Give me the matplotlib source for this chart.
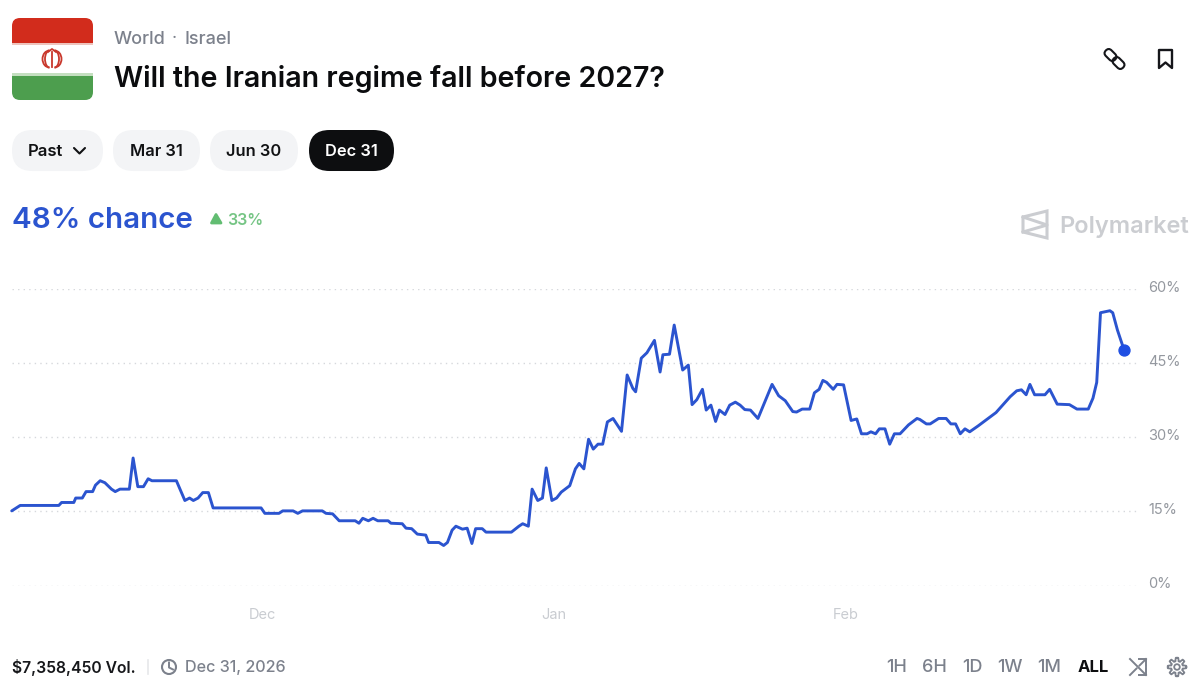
import numpy as np
import matplotlib
matplotlib.use('Agg')
import matplotlib.pyplot as plt
from matplotlib.patches import FancyBboxPatch, Circle, Rectangle, Polygon, Arc
from matplotlib.transforms import Affine2D, ScaledTranslation

plt.rcParams['font.family'] = ['Inter', 'DejaVu Sans']

# days counted from Dec 1
days = [-26.6, -25.7, -21.6, -21.3, -20.0, -19.8, -19.1, -18.7, -18.0, -17.7, -17.2, -16.7, -16.0, -15.6, -15.1,
        -14.1, -13.7, -13.2, -12.6, -12.1, -11.7, -9.1, -8.2, -7.7, -7.3, -6.8, -6.3, -5.7, -5.2, -0.1,
        0.3, 1.8, 2.2, 3.3, 3.8, 4.3, 6.4, 6.8, 7.5, 8.2, 9.9, 10.3, 10.7, 11.3, 11.8,
        12.3, 13.4, 13.7, 14.9, 15.3, 15.9, 16.5, 17.4, 17.7, 18.8, 19.3, 19.7, 20.2, 20.6, 21.3,
        21.8, 22.3, 22.7, 23.4, 23.8, 26.5, 27.3, 27.7, 28.3, 28.7, 29.3, 29.8, 30.2, 30.8, 31.3,
        31.8, 32.7, 33.3, 33.7, 34.2, 34.7, 35.2, 35.7, 36.2, 36.7, 37.3, 38.2, 38.8, 39.4, 39.7,
        40.3, 40.9, 41.7, 42.3, 42.6, 43.3, 43.8, 44.7, 45.3, 45.7, 46.2, 46.8, 47.2, 47.7, 48.2,
        48.6, 49.2, 49.7, 50.3, 50.8, 51.3, 51.9, 52.7, 54.2, 54.9, 55.6, 56.4, 56.8, 57.4, 58.2,
        58.7, 59.2, 59.6, 60.0, 60.7, 61.1, 61.8, 62.6, 63.2, 63.7, 64.3, 64.7, 65.2, 65.6, 66.2,
        66.7, 67.2, 67.8, 68.7, 69.6, 69.9, 70.6, 71.0, 71.9, 72.7, 73.2, 73.7, 74.2, 74.7, 75.2,
        76.1, 78.0, 79.5, 80.2, 80.7, 81.2, 81.6, 82.1, 83.2, 83.7, 84.5, 85.8, 86.6, 87.8, 88.3,
        88.7, 89.1, 90.1, 90.4, 90.9, 91.6]
chance = [15.1, 16.2, 16.2, 16.8, 16.8, 17.7, 17.7, 19.0, 19.0, 20.3, 21.2, 20.8, 19.5, 19.0, 19.5,
          19.5, 25.8, 20.0, 20.0, 21.6, 21.2, 21.2, 17.2, 17.7, 17.2, 17.7, 18.8, 18.8, 15.7, 15.7,
          14.6, 14.6, 15.1, 15.1, 14.6, 15.1, 15.1, 14.6, 14.5, 13.1, 13.1, 12.6, 13.6, 13.1, 13.6,
          13.1, 13.1, 12.6, 12.5, 11.6, 11.5, 10.4, 10.2, 8.7, 8.7, 8.1, 8.7, 11.2, 12.0, 11.4,
          11.6, 8.5, 11.5, 11.5, 10.8, 10.8, 12.0, 12.5, 12.0, 19.5, 17.2, 17.7, 23.8, 17.2, 17.7,
          18.9, 20.2, 23.6, 24.7, 23.6, 29.6, 27.6, 28.6, 28.6, 33.1, 33.8, 31.2, 42.6, 39.9, 39.2,
          46.0, 47.1, 49.6, 43.2, 46.7, 46.8, 52.7, 43.6, 44.6, 36.6, 37.6, 39.7, 35.5, 36.5, 33.2,
          35.5, 34.6, 36.5, 37.1, 36.5, 35.6, 35.5, 33.8, 40.7, 38.4, 37.4, 35.2, 35.1, 35.7, 35.7,
          39.0, 39.7, 41.5, 41.1, 39.7, 40.7, 40.6, 33.4, 33.7, 30.7, 30.7, 31.1, 30.7, 31.7, 31.7,
          28.6, 30.7, 30.7, 32.5, 33.8, 33.6, 32.7, 32.7, 33.8, 33.8, 32.7, 32.7, 30.7, 31.7, 31.1,
          32.3, 35.0, 38.2, 39.4, 39.6, 38.6, 40.7, 38.6, 38.6, 39.7, 36.7, 36.6, 35.7, 35.7, 37.9,
          41.1, 55.2, 55.6, 55.2, 51.7, 47.7]

y_ticks = [0, 15, 30, 45, 60]
y_labels = ['0%', '15%', '30%', '45%', '60%']
x_ticks = [0, 31, 62]
x_labels = ['Dec', 'Jan', 'Feb']
pills = [('Mar 31', 113, 200), ('Jun 30', 210, 298)]
ranges = [('1H', 897), ('6H', 934), ('1D', 972), ('1W', 1010), ('1M', 1049)]

BLUE = '#2b54cf'
GRAY = '#7c818c'

fig = plt.figure(figsize=(12, 6.96), dpi=100, facecolor='white')

# chart area
ax = fig.add_axes([12 / 1200, 1 - 585.5 / 696, 1125 / 1200, 296.5 / 696])
ax.set_xlim(-26.57, 92.98)
ax.set_ylim(0, 60)
ax.plot(days, chance, color=BLUE, lw=2.1, solid_joinstyle='round', solid_capstyle='round', clip_on=False, zorder=3)
ax.scatter([days[-1]], [chance[-1]], s=62, color='#1f4fe3', zorder=4, clip_on=False)
ax.yaxis.tick_right()
ax.set_yticks(y_ticks)
ax.set_yticklabels(y_labels, fontsize=10.5, color='#94989f')
ax.set_xticks(x_ticks)
ax.set_xticklabels(x_labels, fontsize=10.5, color='#c9ccd1')
ax.tick_params(axis='both', length=0)
ax.tick_params(axis='y', pad=8.2)
ax.tick_params(axis='x', pad=16)
ax.grid(axis='y', color='#d6d8dc', lw=1.0, linestyle=(0, (1, 3)))
for s in ax.spines.values():
    s.set_visible(False)
ax.patch.set_alpha(0)
# labels sit a little above their gridlines
for lab in ax.get_yticklabels():
    lab.set_transform(lab.get_transform() + ScaledTranslation(0, 2.5 / 100, fig.dpi_scale_trans))

# page furniture, in pixel coordinates
ui = fig.add_axes([0, 0, 1, 1], zorder=-1)
ui.set_xlim(0, 1200)
ui.set_ylim(696, 0)
ui.axis('off')


def pill(x0, x1, y0, y1, color):
    r = (y1 - y0) / 2
    ui.add_patch(FancyBboxPatch((x0 + r, y0 + r), x1 - x0 - 2 * r, 0.01,
                                boxstyle='round,pad=%f,rounding_size=%f' % (r, r),
                                fc=color, ec='none'))


# flag
clip = FancyBboxPatch((19, 25), 67, 68, boxstyle='round,pad=7,rounding_size=8', fc='white', ec='none')
ui.add_patch(clip)
for y, h, c in [(18, 25, '#d22c1c'), (43, 2.2, '#eec4bd'), (73, 2.6, '#c4dfc0'), (75.6, 24.4, '#4d9e4e')]:
    r = Rectangle((12, y), 81, h, fc=c, ec='none')
    ui.add_patch(r)
    r.set_clip_path(clip)
for cx, w in [(49.5, 14), (49.5, 9), (54.5, 14), (54.5, 9)]:
    if cx < 52:
        a = Arc((cx, 59), w, 17, theta1=90, theta2=270, color='#c9382c', lw=1.3)
    else:
        a = Arc((cx, 59), w, 17, theta1=-90, theta2=90, color='#c9382c', lw=1.3)
    ui.add_patch(a)
ui.plot([52, 52], [52, 67], color='#c9382c', lw=1.3)
ui.plot([48, 52, 56], [52, 49, 52], color='#c9382c', lw=1.3)

# header text
ui.text(114, 39.5, 'World', fontsize=13, color=GRAY, va='center', ha='left', fontweight='medium')
ui.text(174, 38.5, '·', fontsize=13, color=GRAY, va='center', ha='center')
ui.text(185, 39.5, 'Israel', fontsize=13, color=GRAY, va='center', ha='left', fontweight='medium')
ui.text(114, 79, 'Will the Iranian regime fall before 2027?', fontsize=20.6, color='#0b0c0e',
        va='center', ha='left', fontweight='semibold')

# link and bookmark icons
for cx, cy in [(1110.5, 55), (1118.5, 63)]:
    b = FancyBboxPatch((cx - 3.5, cy - 1), 7, 2, boxstyle='round,pad=3,rounding_size=4', fc='none', ec='#15161a', lw=1.5)
    b.set_transform(Affine2D().rotate_deg_around(cx, cy, 45) + ui.transData)
    ui.add_patch(b)
ui.add_patch(Polygon([(1159, 50), (1172, 50), (1172, 68), (1165.5, 62.5), (1159, 68)], closed=True,
                     fc='none', ec='#15161a', lw=1.7, joinstyle='round'))

# pills
pill(12, 103, 130, 171, '#f3f4f6')
ui.text(28, 151, 'Past', fontsize=12, color='#111214', va='center', ha='left', fontweight='semibold')
ui.plot([74, 79.5, 85], [148, 153.5, 148], color='#111214', lw=1.5, solid_capstyle='round')
for label, x0, x1 in pills:
    pill(x0, x1, 130, 171, '#f3f4f6')
    ui.text((x0 + x1) / 2, 151, label, fontsize=11.8, color='#111214', va='center', ha='center', fontweight='semibold')
pill(309, 394, 130, 171, '#0d0e10')
ui.text(351.5, 151, 'Dec 31', fontsize=11.8, color='white', va='center', ha='center', fontweight='semibold')

# current value
ui.text(12, 220, '48% chance', fontsize=21.3, color=BLUE, va='center', ha='left', fontweight='semibold')
ui.add_patch(Polygon([(216, 214.5), (221, 223), (211.5, 223)], closed=True, fc='#62bd72', ec='#62bd72', lw=2, joinstyle='round'))
ui.text(227, 220.5, '33%', fontsize=11.5, color='#76c585', va='center', ha='left', fontweight='semibold')

# watermark
ui.add_patch(Polygon([(1023, 217), (1047, 211), (1047, 238), (1023, 232)], closed=True, fc='none', ec='#cbcdd1', lw=2.2))
ui.plot([1023, 1047, 1023], [217, 225, 232], color='#cbcdd1', lw=2.2)
ui.text(1059, 226.5, 'Polymarket', fontsize=17, color='#cbcdd1', va='center', ha='left', fontweight='semibold')

# footer
ui.text(12, 667.5, '$7,358,450 Vol.', fontsize=11.3, color='#17181b', va='center', ha='left', fontweight='semibold')
ui.plot([148, 148], [660, 674], color='#e6e7ea', lw=1.2)
ui.add_patch(Circle((169, 667), 7, fc='none', ec=GRAY, lw=1.5))
ui.plot([169, 169, 173], [662.5, 667.5, 669.5], color=GRAY, lw=1.4)
ui.text(185, 667.5, 'Dec 31, 2026', fontsize=11.6, color=GRAY, va='center', ha='left', fontweight='medium')
for label, x in ranges:
    ui.text(x, 667.5, label, fontsize=13, color=GRAY, va='center', ha='center', fontweight='medium')
ui.text(1093, 667.5, 'ALL', fontsize=12, color='#0d0e10', va='center', ha='center', fontweight='bold')

# shuffle icon
ui.plot([1130, 1146], [659, 675], color=GRAY, lw=1.4)
ui.plot([1130, 1136.5], [675, 668.5], color=GRAY, lw=1.4)
ui.plot([1139.5, 1146], [665.5, 659], color=GRAY, lw=1.4)
ui.plot([1139, 1146, 1146], [659, 659, 666], color=GRAY, lw=1.4)
ui.plot([1139, 1146, 1146], [675, 675, 668], color=GRAY, lw=1.4)

# gear icon
ang = np.linspace(0, 2 * np.pi, 97)
rad = 7.6 + 1.7 * np.clip(2.2 * np.cos(8 * ang), -1, 1)
ui.plot(1177 + rad * np.cos(ang), 667 + rad * np.sin(ang), color=GRAY, lw=1.3)
ui.add_patch(Circle((1177, 667), 2.8, fc='none', ec=GRAY, lw=1.3))

fig.savefig('out.png', dpi=100)
